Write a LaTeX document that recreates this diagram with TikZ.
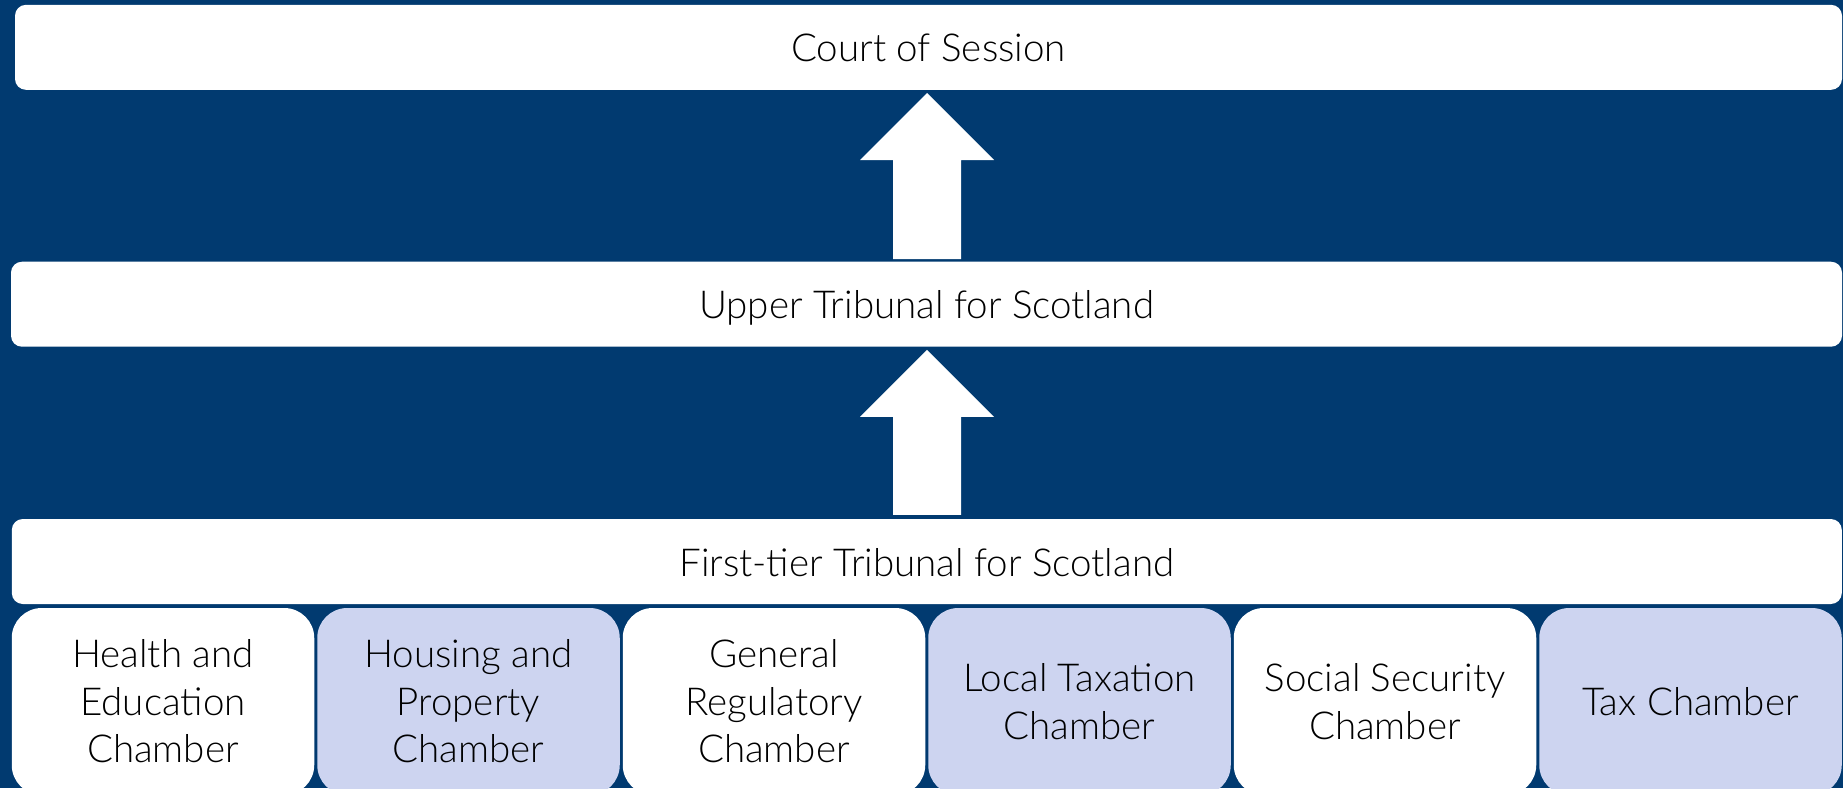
\documentclass[tikz,border=0pt]{standalone}
\usepackage{fontspec}
\setmainfont{Lato}[UprightFont=* Light]
\usetikzlibrary{calc}
\definecolor{bgblue}{RGB}{1,58,112}
\definecolor{lightfill}{RGB}{205,212,240}
\tikzset{
  tier/.style={draw=none, fill=white, rounded corners=11pt, minimum height=85pt,
    inner sep=0pt, text=black, text height=32pt, text depth=3pt,
    font=\fontsize{38.5}{47.5}\selectfont},
  chamberbox/.style={draw=none, rounded corners=30pt, minimum width=302.5pt,
    minimum height=187pt, inner sep=0pt, align=center, text=black,
    font=\fontsize{38.5}{47.5}\selectfont},
  whitebox/.style={chamberbox, fill=white},
  bluebox/.style={chamberbox, fill=lightfill},
  uparrow/.style={fill=white, draw=none}
}
\begin{document}
\begin{tikzpicture}[x=1pt,y=-1pt]
\useasboundingbox (0,0) rectangle (1843,788);
\clip (0,0) rectangle (1843,788);
\fill[bgblue] (0,0) rectangle (1843,788);
% tiers
\node[tier, minimum width=1827pt] (cs) at (928.5,47.3) {Court of Session};
\node[tier, minimum width=1831pt] (ut) at (926.5,304.2) {Upper Tribunal for Scotland};
\node[tier, minimum width=1830pt] (ft) at (926.8,561.5) {First-tier Tribunal for Scotland};
% chambers
\node[whitebox] (c1) at (163.0,701.5) {Health and\\Education\\Chamber};
\node[bluebox]  (c2) at (468.5,701.5) {Housing and\\Property\\Chamber};
\node[whitebox] (c3) at (774.0,701.5) {General\\Regulatory\\Chamber};
\node[bluebox]  (c4) at (1079.5,701.5) {Local Taxation\\Chamber};
\node[whitebox] (c5) at (1385.0,701.5) {Social Security\\Chamber};
\node[bluebox]  (c6) at (1690.5,701.5) {Tax Chamber};
% arrows (block arrows between tiers)
\coordinate (a1b) at ($(ut.north)+(0.5,-2.5)$);
\coordinate (a1t) at ($(cs.south)+(-1.5,3)$);
\coordinate (a2b) at ($(ft.north)+(0.2,-4)$);
\coordinate (a2t) at ($(ut.south)+(0.5,3)$);
\fill[uparrow] ($(a1b)+(-34,0)$) -- ($(a1b)+(-34,-99)$) -- ($(a1b)+(-67,-99)$)
  -- (a1t) -- ($(a1b)+(67,-99)$) -- ($(a1b)+(34,-99)$) -- ($(a1b)+(34,0)$) -- cycle;
\fill[uparrow] ($(a2b)+(-34,0)$) -- ($(a2b)+(-34,-98)$) -- ($(a2b)+(-67,-98)$)
  -- (a2t) -- ($(a2b)+(67,-98)$) -- ($(a2b)+(34,-98)$) -- ($(a2b)+(34,0)$) -- cycle;
\end{tikzpicture}
\end{document}
